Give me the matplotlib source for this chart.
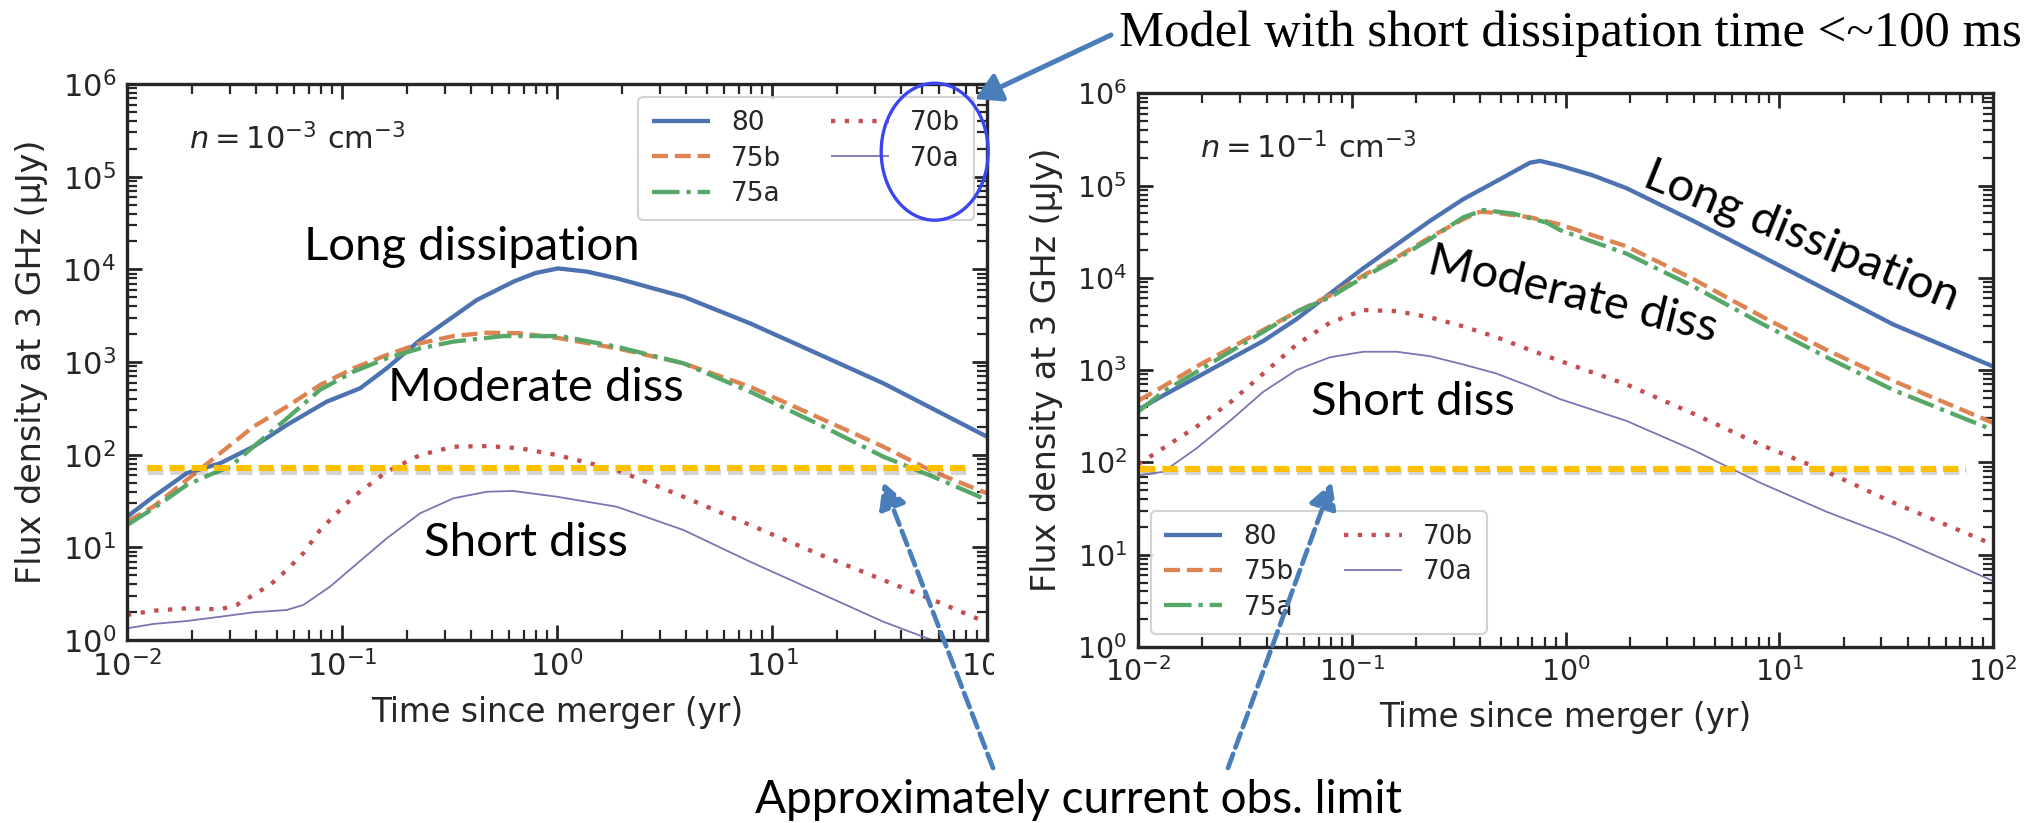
import numpy as np
import matplotlib
matplotlib.use("Agg")
import matplotlib.pyplot as plt
import matplotlib.patheffects as pe
from matplotlib.patches import Ellipse, FancyArrowPatch, Rectangle
from matplotlib.ticker import LogLocator, NullFormatter

# ---------------------------------------------------------------------------
# Light curves: log10(time since merger / yr) and log10(flux density / uJy)
# ---------------------------------------------------------------------------
model_names = ["80", "75b", "75a", "70b", "70a"]

# ambient density n = 1e-3 cm^-3
lo_80_logt = [-2.0, -1.877, -1.722, -1.567, -1.412, -1.257, -1.071, -0.916, -0.792, -0.637,
              -0.373, -0.2, -0.1, 0.005, 0.14, 0.278, 0.588, 0.898, 1.208, 1.518, 2.0]
lo_80_logf = [1.33, 1.546, 1.80, 1.907, 2.086, 2.32, 2.572, 2.716, 2.932, 3.237,
              3.669, 3.87, 3.96, 4.01, 3.975, 3.903, 3.705, 3.417, 3.094, 2.77, 2.194]

lo_75b_logt = [-2.0, -1.877, -1.722, -1.567, -1.412, -1.257, -1.102, -0.947, -0.792, -0.637,
               -0.482, -0.327, -0.172, 0.014, 0.278, 0.588, 0.898, 1.208, 1.518, 1.75, 2.0]
lo_75b_logf = [1.277, 1.44, 1.727, 2.015, 2.302, 2.518, 2.752, 2.932, 3.075, 3.202,
               3.28, 3.316, 3.31, 3.256, 3.148, 2.986, 2.733, 2.41, 2.086, 1.816, 1.583]

lo_75a_logt = [-2.0, -1.877, -1.722, -1.598, -1.521, -1.412, -1.257, -1.102, -0.947, -0.792,
               -0.637, -0.482, -0.25, 0.014, 0.278, 0.588, 0.898, 1.208, 1.518, 1.75, 2.0]
lo_75a_logf = [1.24, 1.42, 1.673, 1.80, 1.87, 2.086, 2.39, 2.70, 2.895, 3.04,
               3.147, 3.22, 3.28, 3.28, 3.165, 2.986, 2.679, 2.338, 1.978, 1.762, 1.511]

lo_70b_logt = [-2.0, -1.877, -1.722, -1.567, -1.49, -1.412, -1.335, -1.257, -1.18, -1.102,
               -1.025, -0.947, -0.792, -0.637, -0.482, -0.327, -0.172, 0.0, 0.278, 0.588,
               0.898, 1.208, 1.518, 1.75, 1.952, 2.0]
lo_70b_logf = [0.27, 0.316, 0.342, 0.331, 0.378, 0.486, 0.594, 0.755, 0.936, 1.187,
               1.367, 1.546, 1.816, 1.996, 2.086, 2.093, 2.069, 1.996, 1.834, 1.546,
               1.241, 0.936, 0.647, 0.432, 0.234, 0.19]

lo_70a_logt = [-2.0, -1.877, -1.722, -1.567, -1.412, -1.257, -1.18, -1.056, -0.947, -0.792,
               -0.637, -0.482, -0.327, -0.203, 0.0, 0.278, 0.588, 0.898, 1.208, 1.518,
               1.766, 2.0]
lo_70a_logf = [0.126, 0.173, 0.205, 0.251, 0.299, 0.324, 0.378, 0.575, 0.791, 1.097,
               1.367, 1.529, 1.600, 1.608, 1.546, 1.438, 1.187, 0.845, 0.521, 0.197,
               -0.02, -0.26]

# ambient density n = 1e-1 cm^-3
hi_80_logt = [-2.0, -1.882, -1.725, -1.57, -1.414, -1.258, -1.102, -0.946, -0.79, -0.634,
              -0.478, -0.322, -0.166, -0.119, -0.026, 0.13, 0.286, 0.598, 0.91, 1.222,
              1.534, 2.0]
hi_80_logf = [2.569, 2.726, 2.923, 3.12, 3.317, 3.554, 3.83, 4.105, 4.362, 4.618,
              4.854, 5.05, 5.249, 5.268, 5.217, 5.11, 4.972, 4.618, 4.243, 3.869,
              3.495, 3.041]

hi_75b_logt = [-2.0, -1.882, -1.725, -1.57, -1.414, -1.258, -1.102, -0.946, -0.79, -0.634,
               -0.478, -0.40, -0.322, -0.166, -0.026, 0.286, 0.598, 0.91, 1.222, 1.534, 2.0]
hi_75b_logf = [2.667, 2.824, 3.041, 3.238, 3.436, 3.633, 3.81, 4.026, 4.223, 4.44,
               4.637, 4.717, 4.705, 4.657, 4.579, 4.342, 3.987, 3.593, 3.219, 2.884, 2.43]

hi_75a_logt = [-2.0, -1.882, -1.725, -1.57, -1.414, -1.258, -1.102, -0.946, -0.79, -0.634,
               -0.478, -0.384, -0.244, -0.088, -0.026, 0.286, 0.598, 0.91, 1.222, 1.534, 2.0]
hi_75a_logf = [2.549, 2.766, 2.983, 3.2, 3.416, 3.633, 3.79, 4.007, 4.204, 4.421,
               4.657, 4.736, 4.697, 4.599, 4.519, 4.263, 3.908, 3.515, 3.14, 2.785, 2.352]

hi_70b_logt = [-2.0, -1.882, -1.725, -1.57, -1.414, -1.258, -1.102, -0.946, -0.79, -0.634,
               -0.478, -0.322, -0.166, -0.026, 0.286, 0.598, 0.91, 1.222, 1.534, 2.0]
hi_70b_logf = [1.98, 2.155, 2.39, 2.648, 2.963, 3.278, 3.515, 3.652, 3.64, 3.573,
               3.475, 3.357, 3.219, 3.101, 2.845, 2.529, 2.195, 1.899, 1.564, 1.111]

hi_70a_logt = [-2.0, -1.882, -1.725, -1.57, -1.414, -1.258, -1.102, -0.946, -0.79, -0.634,
               -0.478, -0.322, -0.166, -0.026, 0.286, 0.598, 0.91, 1.222, 1.534, 2.0]
hi_70a_logf = [1.859, 1.899, 2.155, 2.45, 2.766, 3.002, 3.14, 3.2, 3.2, 3.152,
               3.062, 2.963, 2.824, 2.687, 2.45, 2.135, 1.781, 1.465, 1.189, 0.716]

# approximate current observational limit (uJy) and the time span it is drawn over (yr)
lo_limit, lo_limit_span = 71.0, (0.0124, 80.0)
hi_limit, hi_limit_span = 85.0, (0.0102, 75.0)

# ---------------------------------------------------------------------------
W, H = 2040, 823
plt.rcParams.update({
    "font.family": "DejaVu Sans",
    "mathtext.fontset": "dejavusans",
    "axes.edgecolor": "#262626",
    "axes.linewidth": 2.4,
    "xtick.color": "#262626",
    "ytick.color": "#262626",
    "text.color": "#262626",
    "axes.labelcolor": "#262626",
})

colors = ["#4C72B0", "#DD8452", "#55A868", "#C44E52", "#8172B3"]
styles = ["-", "--", "-.", (0, (1, 2.2)), "-"]
widths = [3.1, 3.1, 3.1, 3.1, 1.3]


def px(x, y):
    """Figure pixel position (origin top-left) -> figure fraction."""
    return x / W, 1 - y / H


fig = plt.figure(figsize=(W / 100, H / 100), dpi=100)
ax_lo = fig.add_axes([127 / W, 1 - 640 / H, 860 / W, 556 / H])
ax_hi = fig.add_axes([1138 / W, 1 - 647 / H, 855 / W, 553.6 / H])

panels = [
    (ax_lo,
     [(lo_80_logt, lo_80_logf), (lo_75b_logt, lo_75b_logf), (lo_75a_logt, lo_75a_logf),
      (lo_70b_logt, lo_70b_logf), (lo_70a_logt, lo_70a_logf)],
     lo_limit, lo_limit_span, r"$n = 10^{-3}\ \mathrm{cm}^{-3}$", "upper right", 22),
    (ax_hi,
     [(hi_80_logt, hi_80_logf), (hi_75b_logt, hi_75b_logf), (hi_75a_logt, hi_75a_logf),
      (hi_70b_logt, hi_70b_logf), (hi_70a_logt, hi_70a_logf)],
     hi_limit, hi_limit_span, r"$n = 10^{-1}\ \mathrm{cm}^{-3}$", "lower left", 20.5),
]

for ax, curves, limit, span, dens, loc, tick_fs in panels:
    for (lt, lf), name, c, ls, lw in zip(curves, model_names, colors, styles, widths):
        ax.plot(10 ** np.asarray(lt), 10 ** np.asarray(lf), color=c, ls=ls, lw=lw,
                label=name, solid_capstyle="butt", dash_capstyle="butt")
    ax.plot(span, [limit, limit], color="#FFC000", lw=4.4, ls=(0, (2.5, 1.15)),
            dash_capstyle="butt", zorder=3,
            path_effects=[pe.SimpleLineShadow(offset=(0.5, -2.5), shadow_color="#555555",
                                              alpha=0.25),
                          pe.Normal()])

    ax.set_xscale("log")
    ax.set_yscale("log")
    ax.set_xlim(1e-2, 1e2)
    ax.set_ylim(1, 1e6)
    for axis in (ax.xaxis, ax.yaxis):
        axis.set_major_locator(LogLocator(base=10, numticks=20))
        axis.set_minor_locator(LogLocator(base=10, subs=np.arange(2, 10), numticks=100))
        axis.set_minor_formatter(NullFormatter())
    ax.tick_params(which="both", direction="in", top=True, right=True)
    ax.tick_params(which="major", length=11, width=2.0, labelsize=tick_fs)
    ax.tick_params(which="minor", length=7, width=1.6)
    ax.tick_params(axis="x", which="major", pad=7)
    ax.tick_params(axis="y", which="major", pad=8)

    ax.set_xlabel("Time since merger (yr)", fontsize=23.5, labelpad=10)
    ax.set_ylabel("Flux density at 3 GHz (\u03bcJy)", fontsize=24, labelpad=10)
    ax.text(0.072, 0.882, dens, transform=ax.transAxes, fontsize=22, ha="left",
            va="baseline")

    leg = ax.legend(loc=loc, ncol=2, fontsize=19, handlelength=2.2, labelspacing=0.35,
                    columnspacing=1.9, borderpad=0.5, borderaxespad=0.5, fancybox=True,
                    framealpha=0.85, edgecolor="#cccccc")
    leg.get_frame().set_linewidth(1.5)

# the left panel's outermost x tick label is cut by the neighbouring panel
fig.add_artist(Rectangle((994 / W, 1 - 705 / H), 22 / W, 60 / H, transform=fig.transFigure,
                         facecolor="white", edgecolor="none"))

# ---------------------------------------------------------------------------
# Annotations
# ---------------------------------------------------------------------------
note_font = ["Lato", "DejaVu Sans"]
note_kw = dict(family=note_font, color="black", fontsize=34)

fig.text(*px(472, 260), "Long dissipation", ha="center", va="baseline", **note_kw)
fig.text(*px(536, 401), "Moderate diss", ha="center", va="baseline", **note_kw)
fig.text(*px(526, 556), "Short diss", ha="center", va="baseline", **note_kw)

fig.text(*px(1801, 236), "Long dissipation", ha="center", va="center", rotation=-22,
         rotation_mode="anchor", **note_kw)
fig.text(*px(1573, 295), "Moderate diss", ha="center", va="center", rotation=-13.5,
         rotation_mode="anchor", **note_kw)
fig.text(*px(1413, 415), "Short diss", ha="center", va="baseline", **note_kw)

fig.text(*px(755, 813), "Approximately current obs. limit", ha="left", va="baseline",
         family=note_font, color="black", fontsize=33)
fig.text(*px(1119, 46), "Model with short dissipation time <~100 ms", ha="left",
         va="baseline", family="Liberation Serif", fontsize=36.5, color="black")

arrow_blue = "#4A7EBB"

# circle around the short-dissipation legend entries
fig.add_artist(Ellipse(px(934.7, 151.7), 107 / W, 137 / H, transform=fig.transFigure,
                       fill=False, edgecolor="#3B45F0", lw=2.4))

fig.add_artist(FancyArrowPatch(px(1111, 35), px(975, 99), transform=fig.transFigure,
                               arrowstyle="-|>,head_length=1.3,head_width=0.75",
                               mutation_scale=12, lw=3.6, color=arrow_blue,
                               shrinkA=0, shrinkB=0))

for start, end in [((993, 768), (883, 482)), ((1228, 768), (1332, 482))]:
    fig.add_artist(FancyArrowPatch(px(*start), px(*end), transform=fig.transFigure,
                                   arrowstyle="-|>,head_length=1.3,head_width=0.7",
                                   mutation_scale=12, lw=3.4, color=arrow_blue,
                                   linestyle=(0, (3.2, 1.4)), shrinkA=0, shrinkB=0))

fig.savefig("out.png", dpi=100, facecolor="white")
